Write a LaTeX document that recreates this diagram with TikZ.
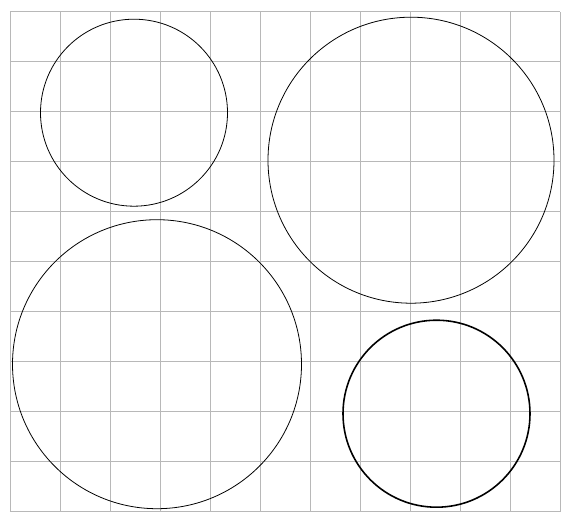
\documentclass[tikz,border=0pt]{standalone}
\begin{document}
\begin{tikzpicture}[
    gridline/.style={black!28,line width=0.5pt},
    ring/.style={black,line width=0.45pt},
    boldring/.style={black,line width=0.9pt}]
  \useasboundingbox (-0.2,-0.206) rectangle (11.26,10.234);
  % the square grid
  \draw[gridline] (0,0) grid (11,10);
  % three thin circles
  \foreach \n/\cx/\cy/\r in {a/2.48/7.98/1.87, b/8.02/7.03/2.86, c/2.94/2.95/2.89}{
    \coordinate (\n) at (\cx,\cy);
    \draw[ring] (\n) circle (\r);
  }
  % the heavier one, lower right
  \coordinate (d) at (8.53,1.96);
  \draw[boldring] (d) circle (1.87);
\end{tikzpicture}
\end{document}
